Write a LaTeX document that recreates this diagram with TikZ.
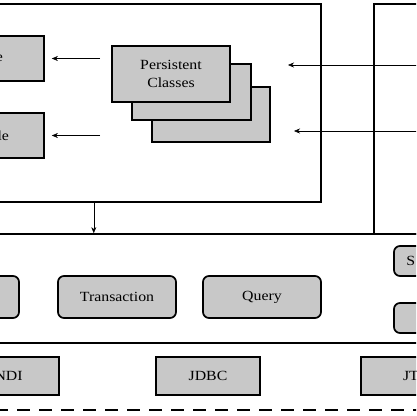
\documentclass[tikz,border=0pt]{standalone}
\usepackage{fontspec}
\setmainfont{Liberation Serif}[FakeStretch=1.13]
\usepackage{tikz}
\usetikzlibrary{calc,arrows,arrows.meta,positioning,shapes}
\definecolor{boxgray}{RGB}{200,200,200}
\tikzset{
  ->,
  >={Stealth[length=6pt,width=5pt]},
  line width=1.3pt,
  layerframe/.style args={#1,#2}{
  draw=black,
  line width=1.7pt,
  minimum width=#1pt,
  minimum height=#2pt,
  inner sep=0pt,
  },
  classbox/.style args={#1,#2}{
  draw=black,
  fill=boxgray,
  line width=1.7pt,
  align=center,
  inner sep=0pt,
  minimum width=#1pt,
  minimum height=#2pt,
  },
  rclassbox/.style args={#1,#2}{classbox={#1,#2},rounded corners=6pt},
  plain/.style={inner sep=0pt}
}
\begin{document}
\begin{tikzpicture}[x=1pt,y=-1pt,font=\fontsize{14}{18}\selectfont]
  \useasboundingbox (0,0) rectangle (416,416);
  \clip (0,0) rectangle (416,416);

  % upper layers
  \node [layerframe={326,198}] (app) at (158,103) {};
  \node [layerframe={51,230}] (obj) at (399.5,119) {};
  \node [layerframe={426,109}] (hib) at (208,288.5) {};

  % left column
  \node [classbox={54,45}] (cfg) at (17,58.5) {};
  \node [plain,anchor=east] (cfgtext) at ($(cfg.west)+(14,0)$) {e};
  \node [classbox={54,45}] (map) at (17,135.5) {};
  \node [plain,anchor=east] (maptext) at ($(map.west)+(20,0)$) {le};

  % persistent classes, stacked
  \node [classbox={118,55}] (cls3) at (211,114.5) {};
  \node [classbox={119,56}] (cls2) at (191.5,92) {};
  \node [classbox={118,56}] (cls) at (171,74) {Persistent\\Classes};

  \draw [shorten <=11pt,shorten >=7pt] (cls.west |- cfg) -- (cfg.east);
  \draw [shorten <=11pt,shorten >=7pt] (cls.west |- map) -- (map.east);

  \coordinate (in1) at (288,65);
  \coordinate (in2) at (294,131);
  \draw (in1 -| obj.east) -- (in1);
  \draw (in2 -| obj.east) -- (in2);

  \coordinate (appdown) at ($(app.south west)!0.304!(app.south east)$);
  \draw (appdown) -- (appdown |- hib.north);

  % hibernate layer
  \node [rclassbox={59,42}] (sf) at (-10.5,297) {};
  \node [rclassbox={118,42}] (tx) at (117,297) {Transaction};
  \node [rclassbox={118,42}] (qry) at (262,297) {Query};
  \node [rclassbox={60,30}] (sess) at (424,261) {};
  \node [plain,right=13pt of sess.west,anchor=west] (sesstext) {S};
  \node [rclassbox={60,30}] (crit) at (424,318) {};

  % back-end api
  \node [classbox={107,38}] (jndi) at (5.5,376) {JNDI};
  \node [classbox={104,38}] (jdbc) at (208,376) {JDBC};
  \node [classbox={110,38}] (jta) at (416,376) {JTA};

  \coordinate (dbl) at (-5,410);
  \coordinate (dbr) at (421,410);
  \draw [-,dash pattern=on 13pt off 9pt,line width=1.6pt] (dbl) -- (dbr);
\end{tikzpicture}
\end{document}
